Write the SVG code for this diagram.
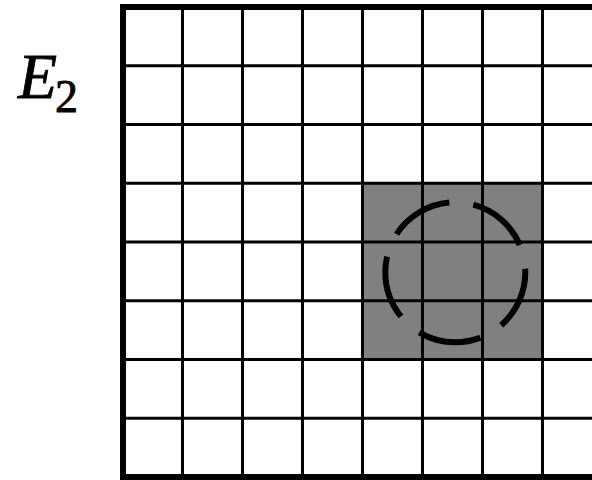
<svg xmlns="http://www.w3.org/2000/svg" width="592" height="480" viewBox="0 0 592 480">
<style>
.g{stroke:#000;stroke-width:3;fill:none}
.b{stroke:#000;stroke-width:6;fill:none}
.lbl{font-family:"Liberation Serif","Times New Roman",serif;fill:#000;stroke:#000;stroke-width:0.8}
</style>
<rect x="0" y="0" width="592" height="480" fill="#fff"/>
<g id="label">
<text class="lbl" x="18" y="98"><tspan font-size="64" font-style="italic">E</tspan><tspan font-size="46" dx="-2" dy="14">2</tspan></text>
</g>
<g id="shaded">
<rect x="362.5" y="183.25" width="180" height="176.25" fill="#808080"/>
</g>
<g id="grid">
<path class="g" d="M182.5 7V477M242.5 7V477M302.5 7V477M362.5 7V477M422.5 7V477M482.5 7V477M542.5 7V477"/>
<path class="g" d="M123 65.75H603M123 124.5H603M123 183.25H603M123 242H603M123 300.75H603M123 359.5H603M123 418.25H603"/>
<rect class="b" x="123" y="7" width="480" height="470"/>
</g>
<g id="circle">
<circle cx="455.3" cy="272.3" r="70" fill="none" stroke="#000" stroke-width="6" pathLength="360" stroke-dasharray="52 20" stroke-dashoffset="3"/>
</g>
</svg>
